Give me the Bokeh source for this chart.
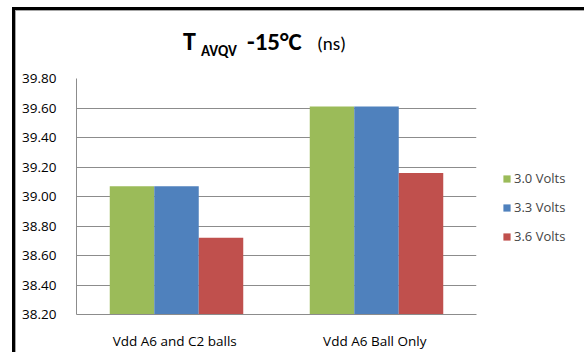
from bokeh.plotting import figure
from bokeh.models import (FactorRange, Range1d, ColumnDataSource, Legend, LegendItem,
                          FixedTicker, CustomJSTickFormatter, InlineStyleSheet,
                          GlobalInlineStyleSheet, Div)
from bokeh.layouts import column
from bokeh.transform import dodge
from bokeh.embed import file_html
from bokeh.resources import INLINE

categories = ["Vdd A6 and C2  balls", "Vdd A6 Ball  Only"]
series_names = ["3.0 Volts", "3.3 Volts", "3.6 Volts"]
v30 = [39.07, 39.61]
v33 = [39.07, 39.61]
v36 = [38.72, 39.16]
y_ticks = [38.2, 38.4, 38.6, 38.8, 39.0, 39.2, 39.4, 39.6, 39.8]
colors = ["#9BBB59", "#4F81BD", "#C0504D"]

TFONT = "Carlito, Open Sans, sans-serif"
FONT = "Open Sans"
TITLE_H = 60

src = ColumnDataSource(dict(cat=categories, v30=v30, v33=v33, v36=v36))

p = figure(frame_width=400, frame_height=236, x_range=FactorRange(*categories),
           y_range=Range1d(y_ticks[0], y_ticks[-1]),
           output_backend="svg", toolbar_location=None,
           min_border_left=76, min_border_right=108, min_border_top=78 - TITLE_H,
           min_border_bottom=35, margin=0)
p.outline_line_color = None
p.background_fill_color = "white"
p.border_fill_color = None

bw = 0.2225
renderers = []
for i, (col, c) in enumerate(zip(["v30", "v33", "v36"], colors)):
    r = p.vbar(x=dodge("cat", (i - 1) * bw, range=p.x_range), top=col, bottom=y_ticks[0],
               width=bw, source=src, fill_color=c, line_color=None)
    renderers.append(r)

p.xgrid.grid_line_color = None
p.ygrid.grid_line_color = "#8C8C8C"
p.ygrid.ticker = FixedTicker(ticks=y_ticks)
p.yaxis.ticker = FixedTicker(ticks=y_ticks)
p.yaxis.formatter = CustomJSTickFormatter(code="return tick.toFixed(2);")
p.yaxis.axis_line_color = "#8C8C8C"
p.yaxis.major_tick_line_color = None
p.yaxis.minor_tick_line_color = None
p.yaxis.major_label_standoff = 14
p.yaxis.major_label_text_font = FONT
p.yaxis.major_label_text_font_size = "13.5px"
p.yaxis.major_label_text_color = "#000000"
p.xaxis.axis_line_color = "#8C8C8C"
p.xaxis.major_tick_line_color = None
p.xaxis.minor_tick_line_color = None
p.xaxis.major_label_standoff = 11
p.xaxis.major_label_text_font = FONT
p.xaxis.major_label_text_font_size = "13.5px"
p.xaxis.major_label_text_color = "#000000"

legend = Legend(items=[LegendItem(label=n, renderers=[r]) for n, r in zip(series_names, renderers)],
                location=(26, 68), glyph_width=9, glyph_height=9, label_height=20,
                spacing=9, padding=0, margin=0, label_standoff=3,
                label_text_font=FONT, label_text_font_size="13px",
                border_line_color=None, background_fill_alpha=0)
p.add_layout(legend, "right")

title_html = (
    f'<div style="position:relative;width:584px;height:{TITLE_H}px;overflow:hidden;'
    f'font-family:{TFONT};color:#000;line-height:1;white-space:nowrap;">'
    '<span style="position:absolute;left:183px;top:28px;font-size:26px;font-weight:bold;">T</span>'
    '<span style="position:absolute;left:201px;top:44px;font-size:15px;font-weight:bold;">AVQV</span>'
    '<span style="position:absolute;left:247px;top:29px;font-size:25px;font-weight:bold;">-15°C</span>'
    '<span style="position:absolute;left:317px;top:34px;font-size:19px;">(ns)</span>'
    '</div>'
)
title = Div(text=title_html, width=584, height=TITLE_H, margin=0)

layout = column(title, p, spacing=0, margin=0)
layout.stylesheets = [
    GlobalInlineStyleSheet(css="html, body { margin: 0; padding: 0; overflow: hidden; }"),
    InlineStyleSheet(css="""
:host { position: relative; background: white; overflow: hidden; }
:host::before { content: ""; position: absolute; left: 12px; top: 7px; width: 600px; height: 400px;
  border-left: 3px solid black; border-top: 3px solid black; pointer-events: none; z-index: 10; }
:host::after { content: ""; position: absolute; left: 15px; top: 10px; width: 600px; height: 400px;
  border-left: 1.5px solid #A6A6A6; border-top: 1.5px solid #A6A6A6; pointer-events: none; z-index: 10; }
"""),
]

open("out.html", "w").write(file_html(layout, INLINE))
